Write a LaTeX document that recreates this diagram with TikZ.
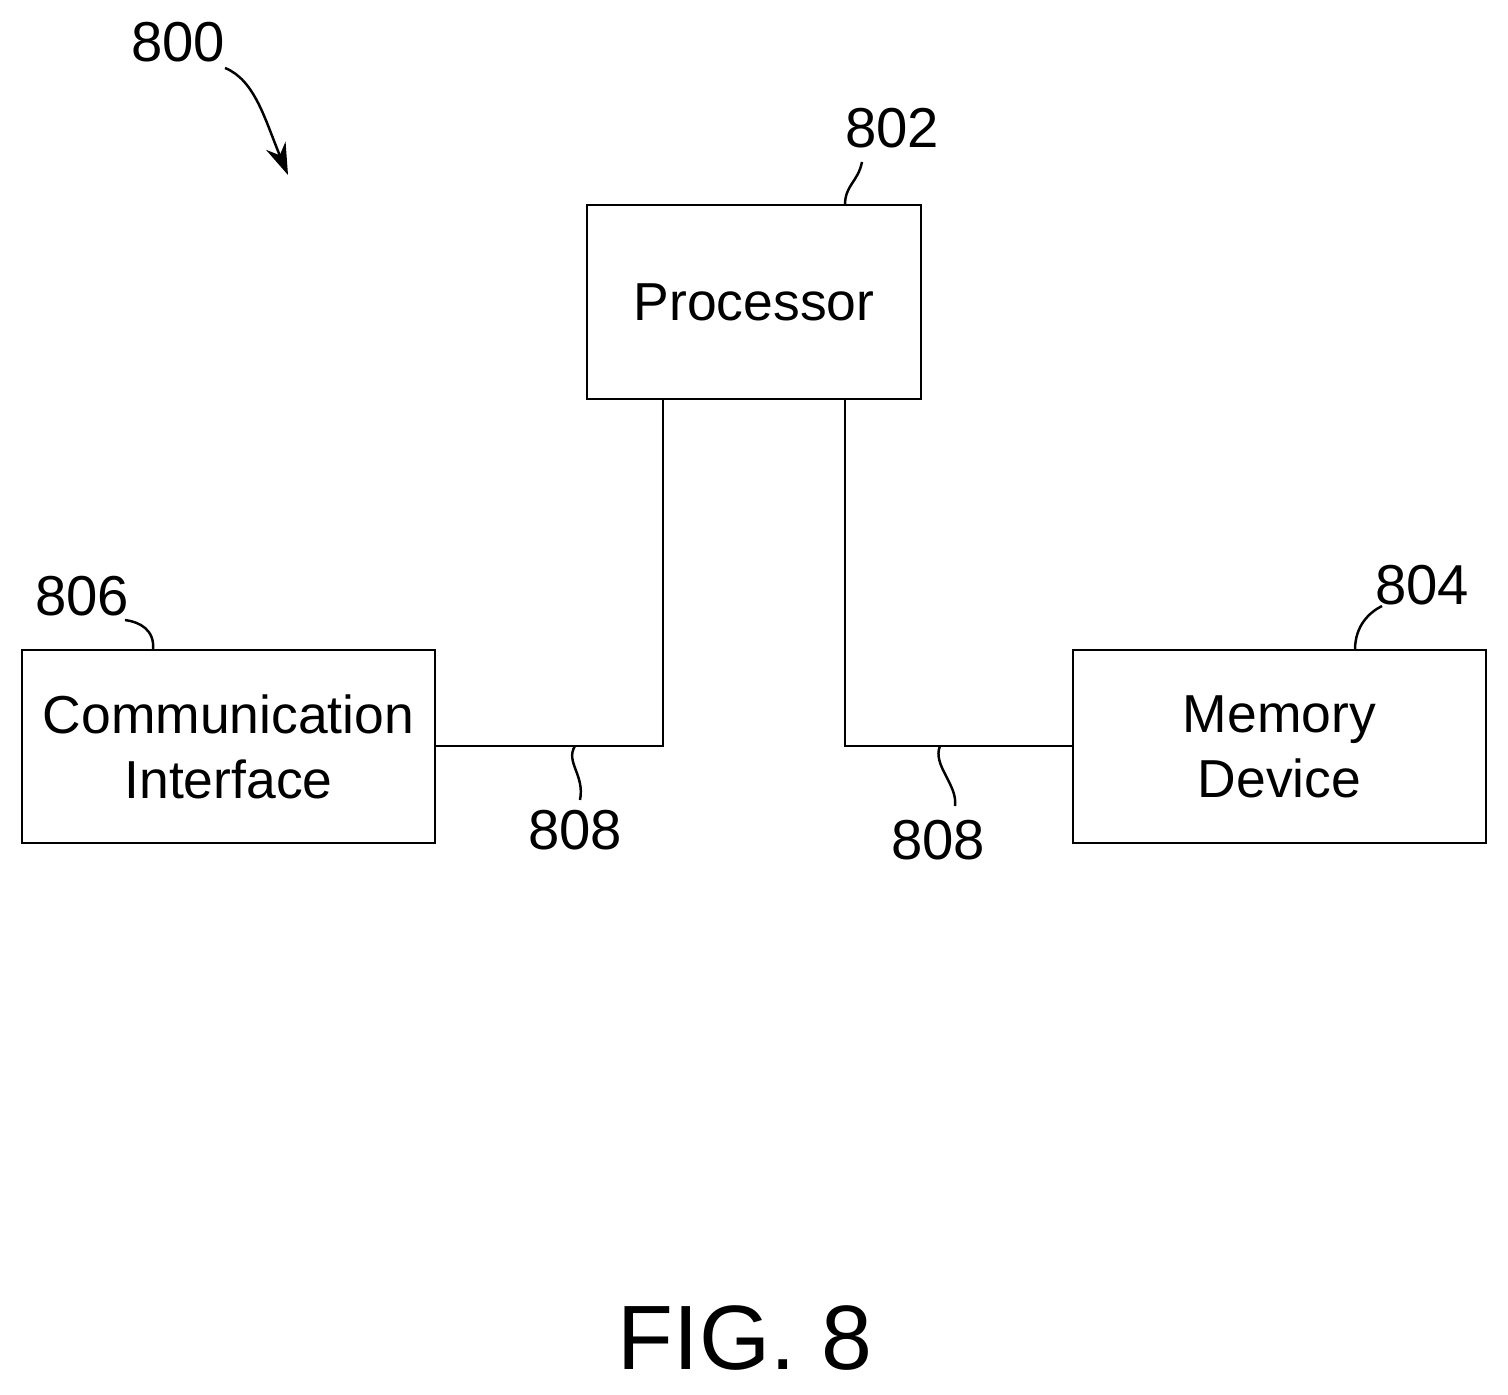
\documentclass[tikz,border=0pt]{standalone}
\usepackage{fontspec}
\setmainfont{Liberation Sans}
\usetikzlibrary{arrows.meta,positioning}

\begin{document}
\begin{tikzpicture}[x=0.01cm,y=-0.01cm,line width=0.7pt,
    block/.style={draw,rectangle,inner sep=0pt,align=center,font=\fontsize{15.2}{18.5}\selectfont},
    ref/.style={font=\fontsize{16}{20}\selectfont,inner sep=1pt}]
\useasboundingbox (0,0) rectangle (1508,1395);

\node[block,minimum width=3.34cm,minimum height=1.94cm] (proc) at (754,302) {Processor};
\node[block,minimum width=4.13cm,minimum height=1.93cm] (comm) at (228.5,746.5) {Communication\\Interface};
\node[block,minimum width=4.13cm,minimum height=1.93cm] (mem) at (1279.5,746.5) {Memory\\Device};

\coordinate (jl) at (663,746);
\coordinate (jr) at (845,746);
\draw (proc.south -| jl) -- (jl) -- (comm.east |- jl);
\draw (proc.south -| jr) -- (jr) -- (mem.west |- jr);

% reference numerals
\node[ref] (n800) at (178,42) {800};
\node[ref] (n802) at (892,128) {802};
\node[ref] (n806) at (82,596) {806};
\node[ref] (n804) at (1422,585) {804};
\node[ref] (n808a) at (575,830) {808};
\node[ref] (n808b) at (938,840) {808};
\node[font=\fontsize{26}{32}\selectfont] (fig) at (745,1338) {FIG. 8};

\draw[-{Stealth[length=9pt,width=6pt]}] (225,68) .. controls (255,80) and (265,120) .. (288,175);
\draw (845,205) .. controls (845,185) and (858,182) .. (862,162);
\draw (153,650) .. controls (155,630) and (140,622) .. (125,620);
\draw (1355,650) .. controls (1355,625) and (1370,612) .. (1382,606);
\draw (575,746) .. controls (565,762) and (585,775) .. (580,800);
\draw (940,746) .. controls (932,765) and (958,785) .. (955,806);
\end{tikzpicture}
\end{document}
